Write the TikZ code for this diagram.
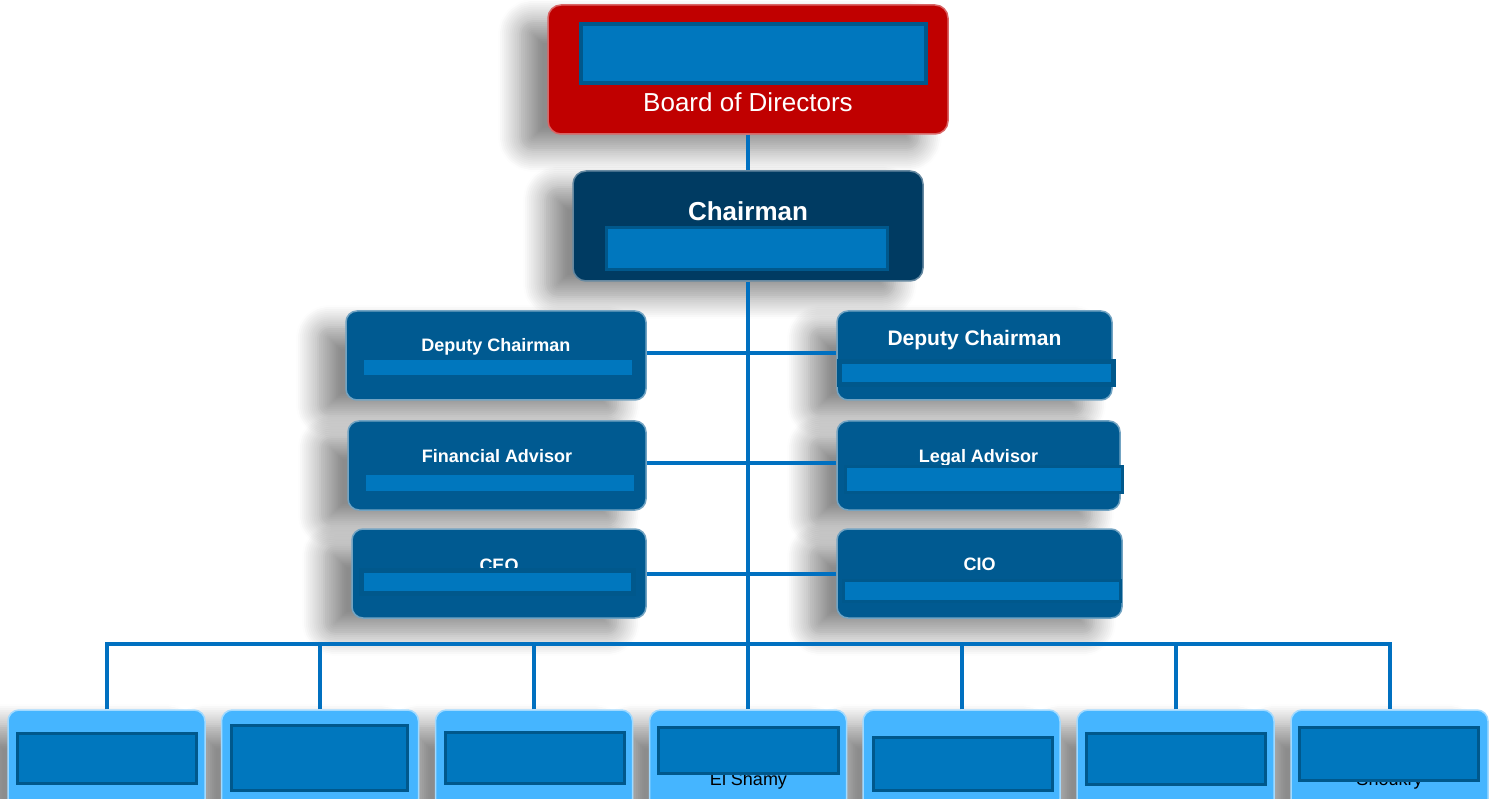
\documentclass[tikz,border=0pt]{standalone}
\usepackage{fontspec}
\setmainfont{Liberation Sans}
\usepackage{tikz}
\usetikzlibrary{shadows.blur}
\usepackage{xcolor}
\definecolor{boardred}{RGB}{192,0,0}
\definecolor{chairnavy}{RGB}{0,59,98}
\definecolor{officeblue}{RGB}{0,90,145}
\definecolor{unitblue}{RGB}{69,181,255}
\definecolor{maskblue}{RGB}{0,119,190}
\definecolor{maskedge}{RGB}{0,88,140}
\definecolor{linkblue}{RGB}{0,112,192}
\tikzstyle{box} = [rectangle, rounded corners=13pt, inner sep=0pt, line width=1.5pt, blur shadow={shadow xshift=-28pt, shadow yshift=-16pt, shadow blur radius=22pt, shadow blur steps=12, shadow opacity=45}]
\tikzstyle{boardbox} = [box, fill=boardred, draw=boardred!60!white, minimum width=400pt, minimum height=129pt]
\tikzstyle{chairbox} = [box, fill=chairnavy, draw=chairnavy!60!white, minimum width=350pt, minimum height=110pt]
\tikzstyle{office} = [box, rounded corners=11pt, fill=officeblue, draw=officeblue!55!white, minimum height=89pt]
\tikzstyle{unit} = [box, rounded corners=11pt, fill=unitblue, draw=unitblue!50!white, minimum width=197pt, minimum height=100pt]
\tikzstyle{boxtitle} = [anchor=base, text=white, font=\bfseries\fontsize{18}{20}\selectfont]
\tikzstyle{persontxt} = [anchor=base, text=black, font=\fontsize{18}{20}\selectfont]
\tikzstyle{mask} = [fill=maskblue, draw=maskedge, line width=3pt]
\tikzstyle{link} = [line width=4pt, color=linkblue]

\begin{document}
\begin{tikzpicture}[x=1pt, y=-1pt]
\clip (0,0) rectangle (1494,799);

% Board and chairman
\node[boardbox] (board) at (748,69.5) {};
\node[chairbox] (chair) at (748,226) {};

% Offices, left column
\node[office, minimum width=300pt] (depL) at (496,355.5) {};
\node[office, minimum width=298pt] (finadv) at (497,465.5) {};
\node[office, minimum width=294pt] (ceo) at (499,573.5) {};

% Offices, right column
\node[office, minimum width=275pt] (depR) at (974.5,355.5) {};
\node[office, minimum width=283pt] (legadv) at (978.5,465.5) {};
\node[office, minimum width=285pt] (cio) at (979.5,573.5) {};

% Units, bottom row (right to left, so shadows stay underneath)
\foreach \i/\x in {7/1389.5, 6/1175.5, 5/961.5, 4/748, 3/534, 2/320, 1/106.5}
  \node[unit] (unit\i) at (\x,760) {};

% Connectors
\draw[link] (board.south) -- (chair.north);
\draw[link] (chair.south) -- (unit4.north);
\draw[link] ([yshift=2.5pt]depL.east) -- ([yshift=2.5pt]depR.west);
\draw[link] ([yshift=2.5pt]finadv.east) -- ([yshift=2.5pt]legadv.west);
\draw[link] (ceo.east) -- (cio.west);
\coordinate (bus) at (748,644);
\draw[link] (unit1.north) |- (bus) -| (unit7.north);
\foreach \i in {2,3,5,6}
  \draw[link] (unit\i.north) -- (unit\i.north |- bus);

% Titles
\node[anchor=base, text=white, font=\fontsize{26}{28}\selectfont] (board-t) at (748,112) {Board of Directors};
\node[boxtitle, font=\bfseries\fontsize{26}{28}\selectfont] (chair-t) at (748,221) {Chairman};
\node[boxtitle] (depL-t) at (496,352) {Deputy Chairman};
\node[boxtitle] (finadv-t) at (497,462) {Financial Advisor};
\node[boxtitle] (ceo-t) at (499,571) {CEO};
\node[boxtitle, font=\bfseries\fontsize{21}{23}\selectfont] (depR-t) at (974.5,346) {Deputy Chairman};
\node[boxtitle] (legadv-t) at (978.5,462) {Legal Advisor};
\node[boxtitle] (cio-t) at (979.5,570) {CIO};
\node[persontxt] (unit4-t) at (748.5,785) {El Shamy};
\node[persontxt] (unit7-t) at (1389.5,785) {Shoukry};

% Masked names
\draw[mask, line width=4pt] (581,24) rectangle (926,83);
\draw[mask] (606,228) rectangle (887,270);
\draw[mask, draw=officeblue] (362,359) rectangle (633,377);
\draw[mask, draw=officeblue] (364,473) rectangle (635,492);
\draw[mask, line width=5pt] (361,570) rectangle (633,593);
\draw[mask, line width=5pt] (839,362) rectangle (1113,385);
\draw[mask] (845,466) rectangle (1122,492);
\draw[mask] (843,580) rectangle (1120,601);
\draw[mask] (17,733) rectangle (196,783);
\draw[mask] (231,725) rectangle (407,790);
\draw[mask] (445,732) rectangle (624,783);
\draw[mask] (658,727) rectangle (838,773);
\draw[mask] (873,737) rectangle (1052,790);
\draw[mask] (1086,733) rectangle (1265,784);
\draw[mask] (1299,727) rectangle (1478,780);
\end{tikzpicture}
\end{document}
